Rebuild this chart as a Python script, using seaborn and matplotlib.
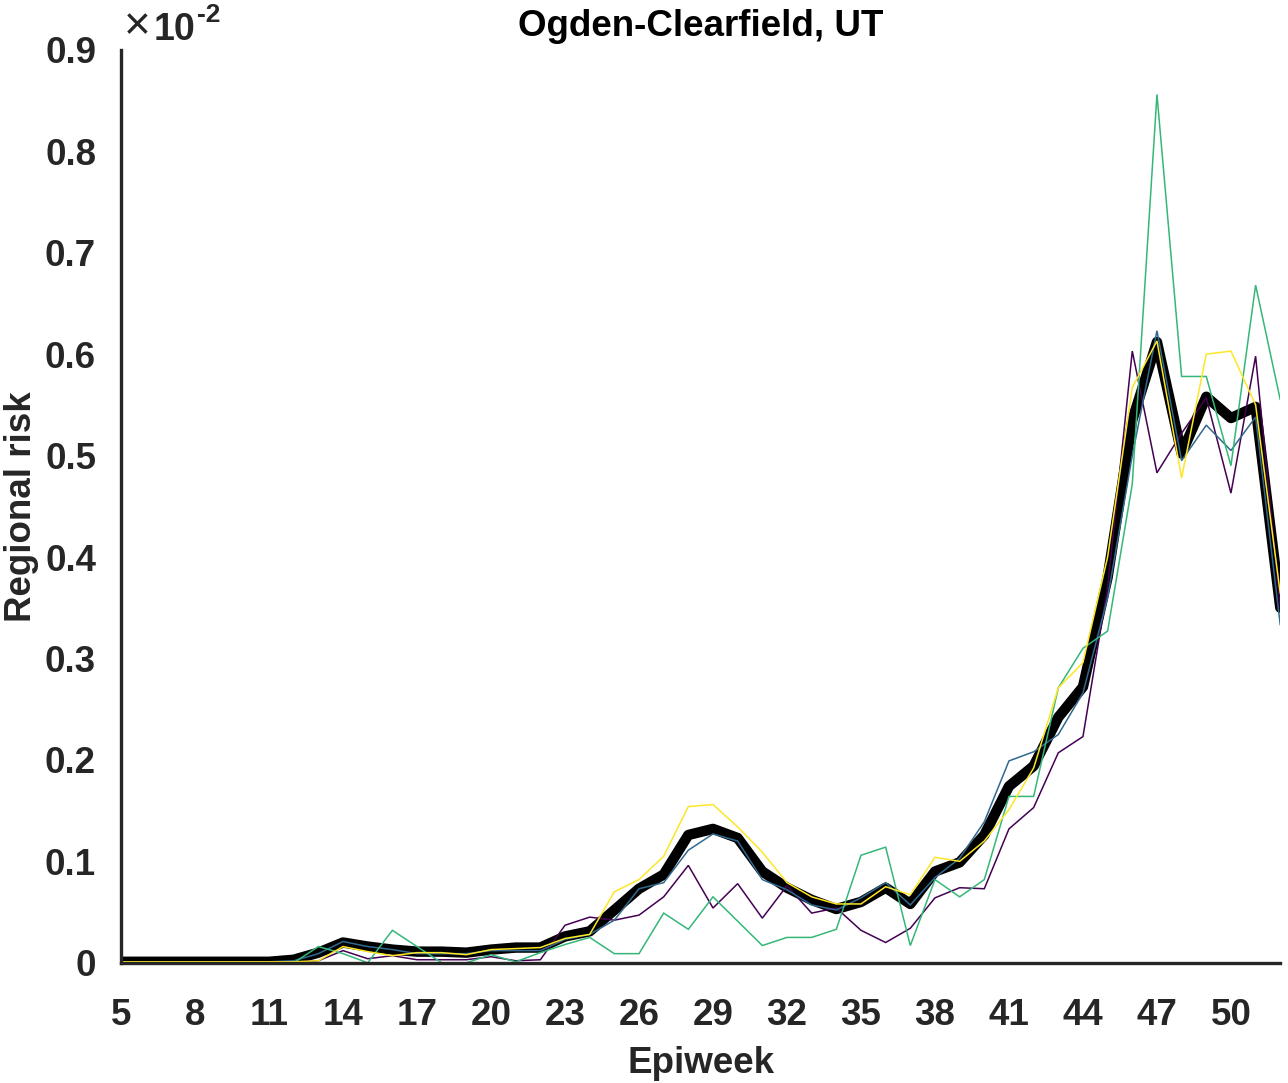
import matplotlib
matplotlib.use("Agg")
import matplotlib.pyplot as plt
import seaborn as sns
import pandas as pd

weeks = list(range(5, 53))

mean_risk = [0.001, 0.001, 0.001, 0.001, 0.001, 0.001, 0.001,
             0.003, 0.010, 0.020, 0.016, 0.013, 0.011, 0.011, 0.010, 0.013,
             0.015, 0.015, 0.026, 0.031, 0.052, 0.073, 0.087, 0.126, 0.132,
             0.123, 0.090, 0.074, 0.062, 0.053, 0.060, 0.074, 0.058, 0.090,
             0.099, 0.126, 0.174, 0.194, 0.242, 0.272, 0.380, 0.535, 0.612,
             0.502, 0.558, 0.537, 0.548, 0.350]

purple_risk = [0.0, 0.0, 0.0, 0.0, 0.0, 0.0, 0.0, 0.0,
               0.002, 0.012, 0.004, 0.007, 0.003, 0.003, 0.003, 0.006,
               0.002, 0.003, 0.037, 0.045, 0.042, 0.047, 0.065, 0.096, 0.054,
               0.078, 0.044, 0.076, 0.049, 0.054, 0.032, 0.020, 0.034, 0.064,
               0.074, 0.073, 0.132, 0.153, 0.207, 0.223, 0.370, 0.603, 0.483,
               0.522, 0.557, 0.463, 0.598, 0.350]

blue_risk = [0.001, 0.001, 0.001, 0.001, 0.001, 0.001, 0.001,
             0.002, 0.009, 0.021, 0.016, 0.013, 0.009, 0.009, 0.009, 0.012,
             0.012, 0.012, 0.023, 0.028, 0.042, 0.073, 0.079, 0.111, 0.127,
             0.120, 0.082, 0.072, 0.057, 0.052, 0.064, 0.079, 0.057, 0.084,
             0.103, 0.139, 0.199, 0.208, 0.225, 0.266, 0.360, 0.500, 0.623,
             0.495, 0.530, 0.505, 0.538, 0.333]

green_risk = [0.0, 0.0, 0.0, 0.0, 0.0, 0.0, 0.0, 0.0,
              0.016, 0.009, 0.0, 0.032, 0.016, 0.0, 0.0, 0.008,
              0.001, 0.010, 0.018, 0.025, 0.009, 0.009, 0.049, 0.033, 0.065,
              0.041, 0.017, 0.025, 0.025, 0.033, 0.106, 0.114, 0.017, 0.082,
              0.065, 0.082, 0.164, 0.164, 0.271, 0.310, 0.327, 0.472, 0.856,
              0.578, 0.578, 0.490, 0.668, 0.555]

yellow_risk = [0.001, 0.001, 0.001, 0.001, 0.001, 0.001, 0.001, 0.001,
               0.002, 0.016, 0.011, 0.007, 0.010, 0.010, 0.008, 0.013,
               0.014, 0.015, 0.024, 0.028, 0.070, 0.082, 0.105, 0.154, 0.156,
               0.134, 0.109, 0.079, 0.065, 0.058, 0.058, 0.075, 0.067, 0.104,
               0.100, 0.120, 0.151, 0.192, 0.271, 0.296, 0.400, 0.567, 0.613,
               0.478, 0.600, 0.603, 0.550, 0.364]

x_ticks = [5, 8, 11, 14, 17, 20, 23, 26, 29, 32, 35, 38, 41, 44, 47, 50]
y_ticks = [0, 0.1, 0.2, 0.3, 0.4, 0.5, 0.6, 0.7, 0.8, 0.9]
y_tick_labels = ["0", "0.1", "0.2", "0.3", "0.4", "0.5", "0.6", "0.7", "0.8", "0.9"]

sns.set_style("white")
plt.rcParams["font.family"] = ["Liberation Sans", "DejaVu Sans"]
plt.rcParams["font.weight"] = "bold"

AX_COLOR = "#262626"
FS = 26.5

fig = plt.figure(figsize=(12.88, 10.83), dpi=100)
ax = fig.add_axes([0.094, 0.111, 0.900, 0.843])

series = [
    ("mean", mean_risk, "black", 7.5),
    ("s1", purple_risk, "#440154", 1.1),
    ("s2", blue_risk, "#31688e", 1.1),
    ("s3", green_risk, "#35b779", 1.1),
    ("s4", yellow_risk, "#fde725", 1.1),
]
for name, vals, col, lw in series:
    df = pd.DataFrame({"week": weeks, "risk": vals})
    sns.lineplot(data=df, x="week", y="risk", color=col, linewidth=lw,
                 ax=ax, legend=False,
                 solid_joinstyle="miter" if lw < 2 else "round")

ax.set_xlim(5, 52)
ax.set_ylim(0, 0.9)
ax.set_xticks(x_ticks)
ax.set_xticklabels([str(t) for t in x_ticks])
ax.set_yticks(y_ticks)
ax.set_yticklabels(y_tick_labels)

for s in ["top", "right"]:
    ax.spines[s].set_visible(False)
for s in ["left", "bottom"]:
    ax.spines[s].set_color(AX_COLOR)
    ax.spines[s].set_linewidth(2.4)

ax.tick_params(axis="both", direction="out", length=9, width=2.4,
               colors=AX_COLOR, labelsize=FS, labelcolor=AX_COLOR)
ax.tick_params(axis="x", pad=16)
ax.tick_params(axis="y", pad=9)
for lab in ax.get_xticklabels() + ax.get_yticklabels():
    lab.set_fontweight("bold")

ax.set_xlabel("Epiweek", fontsize=FS, fontweight="bold", color=AX_COLOR, labelpad=10)
ax.set_ylabel("Regional risk", fontsize=FS, fontweight="bold", color=AX_COLOR)
ax.yaxis.set_label_coords(-0.071, 0.5)
ax.set_title("Ogden-Clearfield, UT", fontsize=FS, fontweight="bold", color="black", pad=10)

fig.text(124 / 1288, 1 - 39 / 1083, "\u00d7", fontsize=33, color=AX_COLOR,
         fontweight="normal", ha="left", va="baseline")
fig.text(154 / 1288, 1 - 40 / 1083, "10", fontsize=27, color=AX_COLOR,
         fontweight="bold", ha="left", va="baseline")
fig.text(197 / 1288, 1 - 22 / 1083, "-2", fontsize=19, color=AX_COLOR,
         fontweight="bold", ha="left", va="baseline")

fig.savefig("out.png", dpi=100)
